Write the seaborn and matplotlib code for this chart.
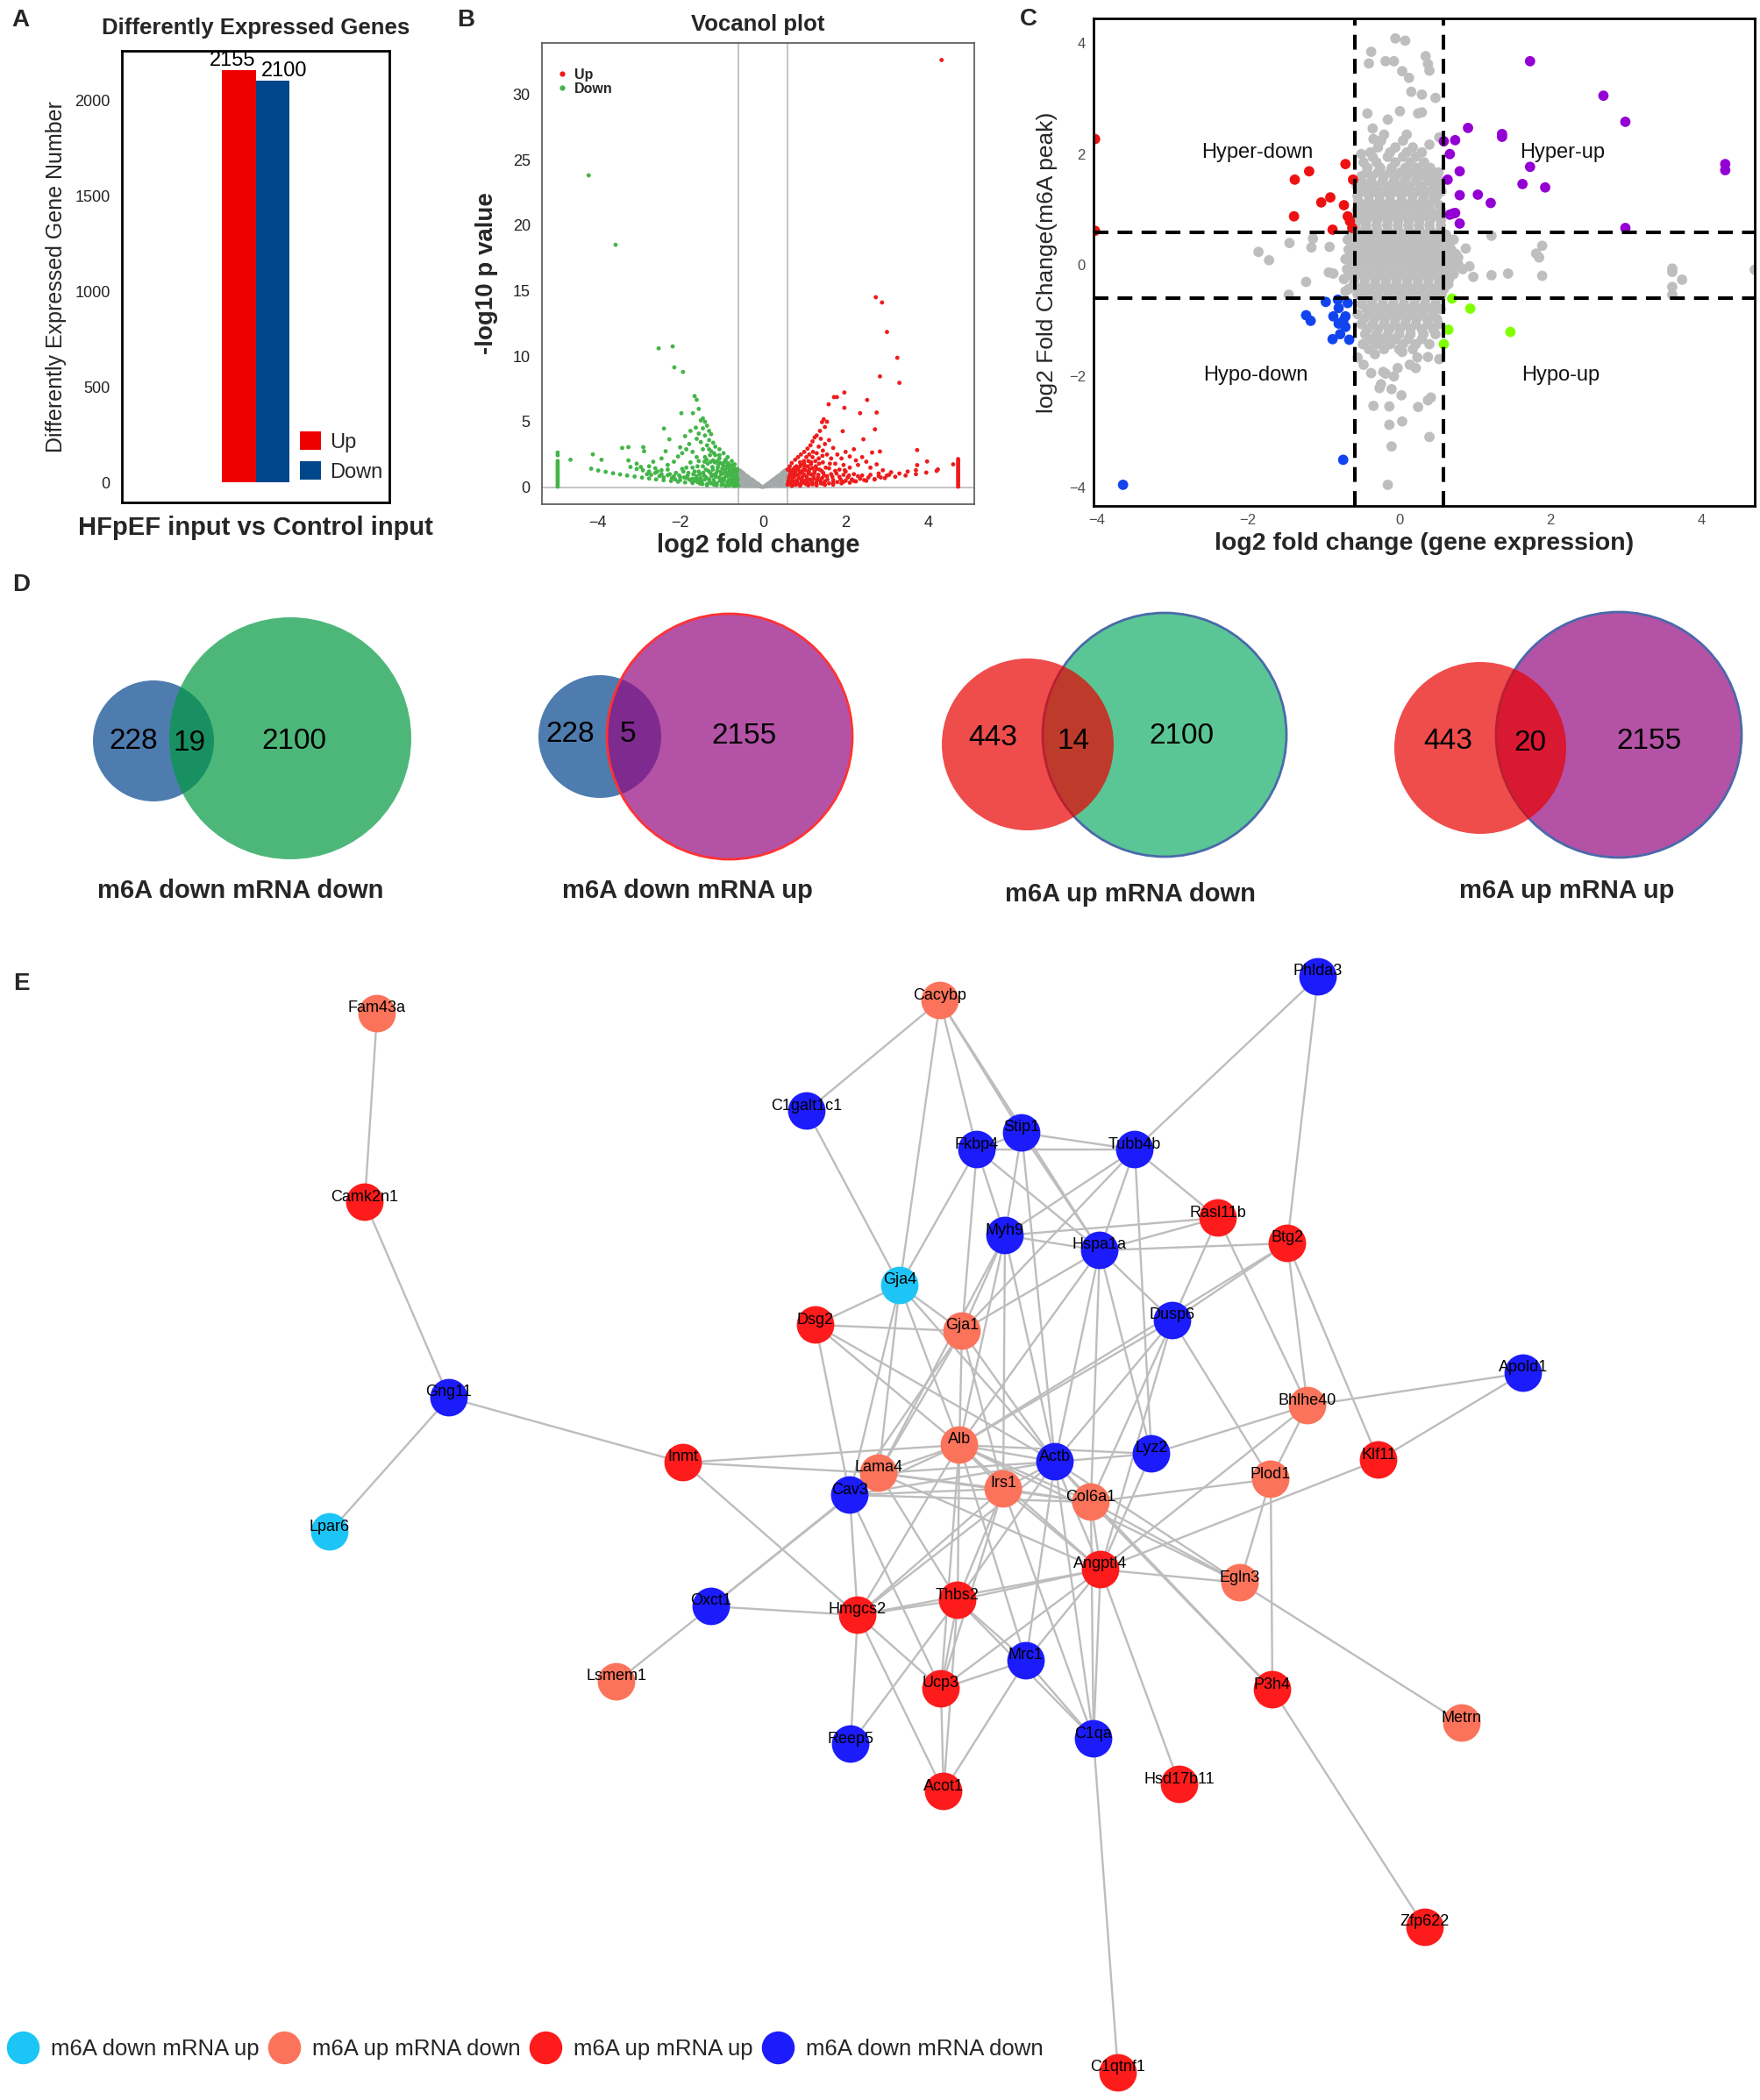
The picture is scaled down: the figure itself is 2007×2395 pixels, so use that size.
import numpy as np
import pandas as pd
import matplotlib
matplotlib.use("Agg")
import matplotlib.pyplot as plt
from matplotlib.patches import Circle
from matplotlib.lines import Line2D
from matplotlib.collections import LineCollection
import seaborn as sns

W, H = 2008, 2395

sns.set_style("white")
plt.rcParams['font.family'] = ['Liberation Sans', 'DejaVu Sans']

# ---------------- panel A data ----------------
deg_groups = ["Up", "Down"]
deg_counts = [2155, 2100]
deg_colors = ["#ED0000", "#00468B"]
comparison = "HFpEF input vs Control input"

# ---------------- panel B data (log2 FC, -log10 p) ----------------
vol_down = [(-4.21, 23.8), (-3.56, 18.5), (-2.52, 10.6), (-2.18, 10.75), (-2.14, 9.15), (-1.93, 8.8),
            (-1.65, 6.96), (-1.60, 6.68), (-1.55, 5.98), (-1.97, 5.65), (-1.69, 5.65), (-2.39, 4.48),
            (-2.26, 3.66), (-2.89, 3.06), (-2.87, 2.75), (-3.40, 3.0), (-3.25, 3.06), (-4.11, 2.51),
            (-3.90, 2.1), (-4.65, 2.1), (-3.25, 2.05), (-3.05, 1.8), (-2.95, 1.55), (-2.75, 1.6),
            (-2.6, 1.45), (-2.45, 1.3), (-2.3, 1.7), (-2.15, 1.95), (-2.05, 2.35), (-1.95, 2.6),
            (-1.85, 2.9), (-1.78, 3.3), (-2.45, 2.2), (-2.65, 1.95), (-2.35, 2.75), (-2.0, 3.05),
            (-1.88, 3.9), (-1.75, 4.3), (-1.62, 4.55), (-1.5, 5.1), (-1.45, 5.25), (-1.40, 5.0),
            (-1.35, 4.7), (-1.3, 4.3), (-1.25, 4.05), (-1.45, 4.5), (-1.55, 4.1), (-1.6, 3.7),
            (-1.4, 3.95), (-1.3, 3.6), (-1.2, 3.4), (-1.15, 3.1), (-1.05, 2.9), (-0.95, 2.6),
            (-0.85, 2.3), (-0.75, 2.0), (-0.68, 1.75), (-1.5, 3.45), (-1.7, 2.7), (-1.6, 2.3),
            (-1.45, 2.9), (-1.35, 3.2), (-1.25, 2.75), (-1.15, 2.45), (-1.05, 2.2), (-0.92, 1.95),
            (-0.8, 1.7), (-0.7, 1.45), (-0.62, 1.2),
            (-4.15, 1.42), (-3.98, 1.28), (-3.8, 1.18), (-3.62, 1.07), (-3.45, 0.98), (-3.28, 0.9),
            (-3.1, 0.82), (-2.92, 0.74), (-2.75, 0.67), (-2.58, 0.6), (-2.4, 0.54), (-2.22, 0.48),
            (-2.05, 0.42), (-1.88, 0.37), (-1.7, 0.32), (-1.52, 0.28), (-1.35, 0.24), (-1.18, 0.2),
            (-1.0, 0.17), (-0.82, 0.14), (-0.65, 0.12),
            (-3.2, 1.55), (-3.05, 1.4), (-2.9, 1.3), (-2.75, 1.2), (-2.6, 1.1), (-2.45, 1.0),
            (-2.3, 0.92), (-2.15, 0.85), (-2.0, 0.78), (-1.85, 0.72), (-1.7, 0.65), (-1.55, 0.6),
            (-4.96, 0.05), (-4.96, 0.2), (-4.96, 0.35), (-4.96, 0.5), (-4.96, 0.65), (-4.96, 0.8),
            (-4.96, 0.95), (-4.96, 1.1), (-4.96, 1.25), (-4.96, 1.4), (-4.96, 1.55), (-4.96, 1.7),
            (-4.96, 1.85), (-4.96, 2.0), (-4.96, 2.45), (-4.96, 2.65),
            (-1.48, 0.45), (-1.42, 0.9), (-1.38, 1.35), (-1.33, 1.8), (-1.3, 0.6), (-1.27, 1.1),
            (-1.22, 1.55), (-1.2, 2.05), (-1.17, 0.35), (-1.14, 0.8), (-1.1, 1.25), (-1.08, 1.7),
            (-1.04, 0.5), (-1.01, 1.0), (-0.98, 1.45), (-0.96, 0.25), (-0.93, 0.7), (-0.9, 1.15),
            (-0.88, 1.6), (-0.86, 0.4), (-0.83, 0.9), (-0.8, 1.3), (-0.78, 0.2), (-0.76, 0.6),
            (-0.73, 1.05), (-0.71, 1.5), (-0.69, 0.35), (-0.66, 0.8), (-0.64, 1.0), (-0.62, 0.5),
            (-0.61, 0.25), (-1.35, 0.15), (-1.25, 0.3), (-1.12, 0.15), (-0.9, 0.1), (-0.7, 0.1),
            (-1.45, 1.6), (-1.55, 1.2), (-1.6, 0.85), (-1.65, 0.5), (-1.7, 1.5), (-1.8, 1.1),
            (-1.9, 0.75), (-1.95, 1.4), (-2.1, 1.1), (-2.2, 0.7), (-2.3, 1.35), (-2.5, 0.85),
            (-2.7, 0.95), (-1.75, 1.9), (-1.55, 2.0), (-1.4, 2.3), (-1.28, 2.45), (-1.1, 2.0),
            (-0.98, 1.8), (-0.85, 1.85), (-1.0, 0.65), (-1.2, 0.95), (-1.4, 0.6), (-1.58, 0.4),
            (-1.78, 0.6), (-2.0, 0.55), (-1.85, 1.5), (-1.65, 1.2), (-1.5, 0.7), (-0.75, 0.85),
            (-0.67, 0.6)]
vol_down_dense = [(-1.46, 0.25), (-1.44, 1.1), (-1.41, 1.95), (-1.37, 0.75), (-1.36, 2.1), (-1.32, 1.25),
                  (-1.29, 0.4), (-1.26, 1.95), (-1.24, 0.85), (-1.21, 1.35), (-1.19, 0.55), (-1.16, 1.9),
                  (-1.13, 1.05), (-1.11, 0.3), (-1.09, 1.5), (-1.06, 0.75), (-1.03, 1.85), (-1.02, 1.2),
                  (-0.99, 0.4), (-0.97, 1.05), (-0.95, 1.65), (-0.94, 0.55), (-0.92, 1.3), (-0.89, 0.85),
                  (-0.87, 1.45), (-0.85, 0.2), (-0.84, 1.1), (-0.82, 0.6), (-0.81, 1.5), (-0.79, 0.95),
                  (-0.77, 0.4), (-0.76, 1.25), (-0.74, 0.7), (-0.72, 1.7), (-0.71, 0.25), (-0.7, 1.15),
                  (-0.68, 0.5), (-0.67, 1.35), (-0.65, 0.35), (-0.63, 0.8), (-0.62, 1.4), (-0.61, 0.65),
                  (-0.6, 0.15), (-1.52, 1.0), (-1.58, 1.6), (-1.62, 0.65), (-1.68, 1.0), (-1.72, 0.45),
                  (-1.82, 0.9), (-1.92, 1.2), (-2.02, 0.9), (-2.12, 0.6), (-2.25, 1.0), (-2.4, 0.75),
                  (-2.55, 1.2), (-2.8, 1.0), (-1.3, 2.9), (-1.18, 2.6), (-1.05, 2.45), (-0.9, 2.1)]

vol_up = [(4.32, 32.6), (2.73, 14.5), (2.88, 14.1), (3.0, 11.85), (3.25, 9.88), (2.83, 8.46),
          (3.30, 7.97), (1.97, 7.23), (1.72, 6.88), (1.79, 6.88), (2.52, 6.66), (1.59, 6.33),
          (1.97, 6.06), (2.75, 5.7), (2.35, 5.65), (1.47, 5.19), (1.43, 4.97), (2.71, 4.42),
          (1.93, 4.28), (2.43, 3.66), (3.73, 2.84), (2.64, 2.65), (2.83, 2.73), (3.97, 1.97),
          (3.73, 1.69), (4.23, 1.36), (4.6, 1.75),
          (1.55, 5.0), (1.5, 4.6), (1.38, 4.3), (1.3, 3.95), (1.25, 3.8), (1.2, 3.5), (1.15, 3.2),
          (1.08, 2.95), (1.0, 2.7), (0.92, 2.5), (0.85, 2.3), (0.78, 2.1), (0.7, 1.85), (0.65, 1.6),
          (0.6, 1.35), (1.4, 3.7), (1.5, 3.3), (1.6, 3.6), (1.7, 3.0), (1.45, 2.8), (1.35, 3.1),
          (1.3, 2.6), (1.2, 2.3), (1.1, 2.0), (1.0, 1.8), (0.9, 1.6), (0.8, 1.4), (0.7, 1.2),
          (1.8, 2.5), (1.9, 2.2), (2.0, 2.7), (2.1, 2.35), (2.2, 2.9), (2.25, 2.05), (2.4, 2.3),
          (1.65, 2.2), (1.55, 2.5), (2.3, 1.7), (2.5, 1.95), (2.6, 1.5), (2.75, 1.75), (2.9, 1.3),
          (3.1, 1.15), (2.1, 1.5), (1.95, 1.7), (1.75, 1.8), (1.85, 1.35), (2.0, 1.2), (2.2, 1.0),
          (2.4, 0.9), (2.6, 0.95), (2.8, 1.05), (3.0, 0.9), (1.6, 1.45), (1.45, 1.9), (1.35, 2.2),
          (0.6, 0.2), (0.62, 0.5), (0.64, 0.85), (0.66, 1.1), (0.69, 0.35), (0.72, 0.7), (0.75, 1.0),
          (0.77, 1.5), (0.8, 0.2), (0.83, 0.55), (0.86, 0.95), (0.88, 1.25), (0.9, 1.9), (0.93, 0.4),
          (0.96, 0.8), (0.98, 1.35), (1.01, 1.6), (1.04, 0.25), (1.07, 0.6), (1.1, 1.05), (1.13, 1.4),
          (1.16, 1.75), (1.19, 0.4), (1.22, 0.85), (1.25, 1.2), (1.28, 1.6), (1.31, 0.55), (1.34, 0.95),
          (1.37, 1.35), (1.4, 0.3), (1.43, 0.7), (1.46, 1.1), (1.5, 0.45), (1.55, 0.85), (1.6, 0.3),
          (1.65, 1.0), (1.7, 0.55), (1.75, 1.25), (1.8, 0.4), (1.85, 0.8), (1.9, 0.3), (1.95, 0.95),
          (2.0, 0.5), (2.05, 0.75), (2.1, 0.35), (2.15, 0.6), (2.25, 0.45), (2.35, 0.65), (2.5, 0.5),
          (2.7, 0.6), (0.7, 0.1), (0.9, 0.12), (1.1, 0.15), (1.3, 0.15), (1.5, 0.18), (1.7, 0.2),
          (1.2, 0.22), (1.45, 0.28), (1.7, 0.35), (1.95, 0.42), (2.2, 0.48), (2.45, 0.55), (2.7, 0.62),
          (2.95, 0.7), (3.2, 0.8), (3.45, 0.9), (3.7, 1.0), (3.95, 1.12), (4.2, 1.25),
          (2.8, 0.85), (3.05, 0.95), (3.3, 1.05), (3.5, 1.2), (3.7, 1.3),
          (4.72, 0.05), (4.72, 0.2), (4.72, 0.35), (4.72, 0.5), (4.72, 0.65), (4.72, 0.8),
          (4.72, 0.95), (4.72, 1.1), (4.72, 1.25), (4.72, 1.4), (4.72, 1.55), (4.72, 1.7),
          (4.72, 1.85), (4.72, 2.0), (4.72, 2.15)]
vol_up_dense = [(0.61, 0.35), (0.63, 0.7), (0.65, 1.3), (0.67, 0.25), (0.68, 0.95), (0.71, 0.5),
                (0.73, 1.35), (0.74, 0.2), (0.76, 0.8), (0.78, 1.2), (0.79, 0.45), (0.81, 1.6),
                (0.82, 0.95), (0.84, 0.3), (0.85, 1.4), (0.87, 0.7), (0.89, 1.05), (0.91, 0.2),
                (0.92, 1.7), (0.94, 0.6), (0.95, 1.15), (0.97, 0.35), (0.99, 2.0), (1.0, 0.95),
                (1.02, 0.5), (1.03, 1.3), (1.05, 2.3), (1.06, 0.8), (1.08, 1.6), (1.09, 0.35),
                (1.11, 1.2), (1.12, 2.5), (1.14, 0.6), (1.15, 1.0), (1.17, 1.9), (1.18, 0.3),
                (1.2, 1.45), (1.21, 2.7), (1.23, 0.65), (1.24, 1.05), (1.27, 2.0), (1.29, 0.35),
                (1.3, 1.4), (1.33, 0.75), (1.36, 1.8), (1.39, 0.5), (1.42, 1.25), (1.44, 2.4),
                (1.48, 0.9), (1.52, 1.5), (1.56, 0.6), (1.62, 1.8), (1.68, 0.8), (1.78, 1.05),
                (1.88, 0.6), (1.98, 1.3), (2.08, 0.9), (2.3, 0.85), (2.55, 0.75), (2.85, 0.75)]

vol_ns = [(-0.58, 0.1), (-0.58, 0.5), (-0.58, 0.9), (-0.58, 1.3), (-0.54, 0.2), (-0.54, 0.65),
          (-0.54, 1.05), (-0.54, 1.25), (-0.50, 0.12), (-0.50, 0.45), (-0.50, 0.85), (-0.50, 1.15),
          (-0.46, 0.3), (-0.46, 0.7), (-0.46, 1.05), (-0.42, 0.1), (-0.42, 0.5), (-0.42, 0.9),
          (-0.38, 0.25), (-0.38, 0.6), (-0.38, 0.85), (-0.34, 0.1), (-0.34, 0.45), (-0.34, 0.75),
          (-0.30, 0.3), (-0.30, 0.62), (-0.26, 0.12), (-0.26, 0.45), (-0.26, 0.58), (-0.22, 0.28),
          (-0.22, 0.48), (-0.18, 0.1), (-0.18, 0.38), (-0.14, 0.2), (-0.14, 0.3), (-0.10, 0.08),
          (-0.10, 0.22), (-0.06, 0.1), (-0.02, 0.03), (0.02, 0.04), (0.06, 0.12), (0.10, 0.07),
          (0.10, 0.22), (0.14, 0.18), (0.14, 0.3), (0.18, 0.1), (0.18, 0.4), (0.22, 0.25),
          (0.22, 0.5), (0.26, 0.12), (0.26, 0.42), (0.26, 0.6), (0.30, 0.3), (0.30, 0.68),
          (0.34, 0.15), (0.34, 0.5), (0.34, 0.78), (0.38, 0.28), (0.38, 0.62), (0.38, 0.88),
          (0.42, 0.1), (0.42, 0.5), (0.42, 0.95), (0.46, 0.3), (0.46, 0.72), (0.46, 1.08),
          (0.50, 0.15), (0.50, 0.55), (0.50, 0.9), (0.50, 1.18), (0.54, 0.22), (0.54, 0.68),
          (0.54, 1.05), (0.54, 1.28), (0.58, 0.1), (0.58, 0.48), (0.58, 0.92), (0.58, 1.35)]

# ---------------- panel C data (log2 FC expression, log2 FC m6A peak) ----------------
c_hyper_down = [(-4.02, 2.27), (-1.38, 1.54), (-1.19, 1.69), (-0.71, 1.82), (-0.61, 1.54),
                (-1.03, 1.13), (-0.91, 1.22), (-0.73, 1.08), (-1.39, 0.88), (-0.68, 0.88),
                (-0.65, 0.79), (-0.62, 0.67), (-0.88, 0.64), (-4.02, 0.62)]
c_hyper_up = [(1.73, 3.67), (2.70, 3.05), (2.99, 2.58), (4.31, 1.82), (4.31, 1.71), (0.91, 2.47),
              (1.36, 2.36), (1.36, 2.31), (0.59, 2.23), (0.74, 2.25), (0.67, 2.00), (1.73, 1.77),
              (0.80, 1.69), (0.64, 1.54), (1.63, 1.46), (1.93, 1.40), (0.80, 1.26), (1.04, 1.27),
              (1.21, 1.12), (0.71, 0.93), (0.74, 0.94), (0.67, 0.91), (0.80, 0.75), (2.99, 0.67)]
c_hypo_down = [(-0.97, -0.66), (-0.81, -0.62), (-0.80, -0.77), (-0.68, -0.68), (-0.87, -0.92),
               (-0.71, -0.92), (-1.23, -0.90), (-1.17, -1.00), (-0.80, -1.05), (-0.74, -1.00),
               (-0.71, -1.11), (-0.78, -1.24), (-0.88, -1.33), (-0.66, -1.34), (-0.74, -3.50),
               (-3.65, -3.95)]
c_hypo_up = [(0.70, -0.60), (0.94, -0.78), (0.65, -1.16), (1.47, -1.20), (0.59, -1.42)]
c_ns_outer = [(-0.05, 4.08), (0.08, 4.04), (-0.37, 3.84), (-0.40, 3.63), (-0.18, 3.67), (-0.07, 3.67),
              (0.35, 3.76), (0.38, 3.62), (0.40, 3.50), (0.04, 3.49), (0.13, 3.37), (0.16, 3.12),
              (0.30, 3.07), (0.48, 3.01), (-0.42, 2.73), (0.01, 2.77), (0.25, 2.73), (0.30, 2.75),
              (-0.15, 2.62), (-0.35, 2.46), (-0.34, 2.27), (0.53, 2.30), (0.40, 2.17), (-0.50, 2.00),
              (-1.14, 0.48), (-1.45, 0.40), (-1.16, 0.32), (-1.86, 0.24), (-1.72, 0.09), (-0.92, 0.33),
              (-1.23, -0.30), (-0.93, -0.13), (-0.87, -0.15), (-1.46, -0.53), (-0.71, -0.47),
              (0.88, 0.30), (0.78, 0.14), (0.93, -0.02), (0.98, -0.21), (1.22, -0.18), (1.44, -0.15),
              (1.22, 0.53), (1.89, 0.35), (1.81, 0.21), (1.85, 0.14), (1.89, -0.19), (3.61, -0.06),
              (3.61, -0.12), (3.74, -0.26), (3.61, -0.39), (3.61, -0.53), (4.70, -0.08),
              (-0.55, -1.66), (-0.47, -1.79), (-0.32, -1.60), (0.04, -1.56), (0.24, -1.66),
              (0.38, -1.65), (0.53, -1.69), (-0.37, -1.94), (-0.21, -1.92), (-0.02, -1.85), (0.14, -1.79),
              (0.22, -1.85), (-0.18, -1.95), (-0.07, -2.00), (-0.24, -2.14), (-0.26, -2.21), (-0.10, -2.23),
              (0.03, -2.34), (0.42, -2.38), (0.38, -2.43), (-0.34, -2.53), (-0.13, -2.54), (0.25, -2.55),
              (-0.13, -2.87), (0.04, -2.81), (0.40, -3.09), (-0.10, -3.26), (-0.15, -3.95)]
c_ns_core = [(2.35, [-0.2, 0.1]),
             (2.12, [-0.28, -0.05, 0.18]),
             (1.95, [-0.35, -0.15, 0.05, 0.22]),
             (1.75, [-0.42, -0.25, -0.1, 0.08, 0.24, 0.41]),
             (1.6, [-0.5, -0.36, -0.2, -0.05, 0.1, 0.27, 0.45]),
             (1.42, [-0.56, -0.44, -0.3, -0.15, 0.0, 0.14, 0.3, 0.47]),
             (1.25, [-0.55, -0.4, -0.26, -0.12, 0.03, 0.18, 0.33, 0.5]),
             (1.08, [-0.47, -0.33, -0.19, -0.05, 0.1, 0.24, 0.38, 0.53]),
             (0.9, [-0.5, -0.36, -0.22, -0.08, 0.06, 0.2, 0.34, 0.48]),
             (0.72, [-0.58, -0.44, -0.3, -0.16, -0.02, 0.12, 0.26, 0.4, 0.55]),
             (0.55, [-0.63, -0.5, -0.36, -0.22, -0.08, 0.06, 0.2, 0.34, 0.48, 0.62]),
             (0.37, [-0.6, -0.46, -0.32, -0.18, -0.04, 0.1, 0.24, 0.38, 0.52, 0.66]),
             (0.2, [-0.64, -0.5, -0.36, -0.22, -0.08, 0.06, 0.2, 0.34, 0.48, 0.62, 0.75]),
             (0.02, [-0.62, -0.48, -0.34, -0.2, -0.06, 0.08, 0.22, 0.36, 0.5, 0.64, 0.78]),
             (-0.16, [-0.66, -0.52, -0.38, -0.24, -0.1, 0.04, 0.18, 0.32, 0.46, 0.6, 0.72]),
             (-0.34, [-0.6, -0.46, -0.32, -0.18, -0.04, 0.1, 0.24, 0.38, 0.52, 0.65]),
             (-0.52, [-0.55, -0.42, -0.28, -0.14, 0.0, 0.14, 0.28, 0.42, 0.56]),
             (-0.7, [-0.5, -0.36, -0.22, -0.08, 0.06, 0.2, 0.34, 0.48]),
             (-0.88, [-0.55, -0.4, -0.26, -0.12, 0.02, 0.16, 0.3, 0.45]),
             (-1.06, [-0.5, -0.35, -0.2, -0.06, 0.08, 0.22, 0.38, 0.52]),
             (-1.24, [-0.45, -0.3, -0.15, 0.0, 0.15, 0.32, 0.48]),
             (-1.42, [-0.48, -0.3, -0.12, 0.05, 0.22, 0.4])]
c_ns_core_mid = [(2.24, [-0.24, 0.05]),
                 (2.03, [-0.38, -0.12, 0.1, 0.3]),
                 (1.85, [-0.47, -0.3, -0.05, 0.15, 0.33]),
                 (1.67, [-0.43, -0.28, -0.12, 0.02, 0.18, 0.35, 0.52]),
                 (1.51, [-0.5, -0.37, -0.22, -0.07, 0.07, 0.22, 0.38, 0.54]),
                 (1.33, [-0.48, -0.34, -0.19, -0.05, 0.1, 0.25, 0.41, 0.56]),
                 (1.16, [-0.54, -0.4, -0.26, -0.12, 0.03, 0.17, 0.31, 0.45]),
                 (0.99, [-0.56, -0.43, -0.29, -0.15, -0.01, 0.13, 0.27, 0.41, 0.55]),
                 (0.81, [-0.55, -0.43, -0.29, -0.15, -0.01, 0.13, 0.27, 0.41, 0.55]),
                 (0.63, [-0.56, -0.43, -0.29, -0.15, -0.01, 0.13, 0.27, 0.41, 0.55]),
                 (0.46, [-0.68, -0.53, -0.39, -0.25, -0.11, 0.03, 0.17, 0.31, 0.45, 0.59, 0.72]),
                 (0.28, [-0.67, -0.53, -0.39, -0.25, -0.11, 0.03, 0.17, 0.31, 0.45, 0.55, 0.69]),
                 (0.11, [-0.71, -0.57, -0.43, -0.29, -0.15, -0.01, 0.13, 0.27, 0.41, 0.55, 0.69]),
                 (-0.07, [-0.69, -0.55, -0.41, -0.27, -0.13, 0.01, 0.15, 0.29, 0.43, 0.57, 0.71, 0.84]),
                 (-0.25, [-0.73, -0.59, -0.45, -0.31, -0.17, -0.03, 0.11, 0.25, 0.39, 0.53, 0.66]),
                 (-0.43, [-0.67, -0.53, -0.39, -0.25, -0.11, 0.03, 0.17, 0.31, 0.45, 0.59]),
                 (-0.61, [-0.48, -0.35, -0.21, -0.07, 0.07, 0.21, 0.35, 0.49]),
                 (-0.79, [-0.43, -0.29, -0.15, -0.01, 0.13, 0.27, 0.41, 0.55]),
                 (-0.97, [-0.47, -0.33, -0.19, -0.05, 0.09, 0.23, 0.37, 0.5]),
                 (-1.15, [-0.42, -0.28, -0.13, 0.01, 0.15, 0.3, 0.45]),
                 (-1.33, [-0.38, -0.22, -0.05, 0.12, 0.3]),
                 (-1.51, [-0.4, -0.2, 0.0, 0.18])]
c_quadrants = ["Hyper-down", "Hyper-up", "Hypo-down", "Hypo-up"]

# ---------------- panel D data ----------------
venn_titles = ["m6A down mRNA down", "m6A down mRNA up", "m6A up mRNA down", "m6A up mRNA up"]
venn_left = [228, 228, 443, 443]
venn_both = [19, 5, 14, 20]
venn_right = [2100, 2155, 2100, 2155]

# ---------------- panel E data ----------------
grp_labels = ["m6A down mRNA up", "m6A up mRNA down", "m6A up mRNA up", "m6A down mRNA down"]
grp_colors = ["#1DC5F6", "#FB735A", "#FE1B1B", "#1B1BFB"]
node_names = ["Fam43a", "Camk2n1", "Gng11", "Lpar6", "Inmt", "C1galt1c1", "Cacybp", "Phlda3",
              "Fkbp4", "Stip1", "Tubb4b", "Rasl11b", "Btg2", "Myh9", "Hspa1a", "Gja4", "Dsg2",
              "Gja1", "Dusp6", "Apold1", "Bhlhe40", "Alb", "Actb", "Lyz2", "Klf11", "Lama4", "Cav3",
              "Irs1", "Col6a1", "Plod1", "Angptl4", "Egln3", "Oxct1", "Hmgcs2", "Thbs2", "Lsmem1",
              "Mrc1", "Ucp3", "P3h4", "Metrn", "Reep5", "C1qa", "Acot1", "Hsd17b11", "Zfp622", "C1qtnf1"]
node_x = [430, 416, 512, 376, 779, 920, 1072, 1503, 1114, 1165, 1294, 1389, 1468, 1146, 1254, 1026,
          930, 1097, 1337, 1737, 1491, 1094, 1203, 1313, 1572, 1002, 969, 1144, 1244, 1449, 1255,
          1414, 811, 978, 1092, 703, 1170, 1073, 1451, 1667, 970, 1247, 1076, 1345, 1625, 1275]
node_y = [1156, 1371, 1594, 1747, 1668, 1267, 1141, 1114, 1311, 1292, 1311, 1389, 1418, 1409, 1426,
          1466, 1511, 1518, 1506, 1566, 1603, 1648, 1667, 1658, 1665, 1680, 1705, 1698, 1713, 1687,
          1790, 1805, 1832, 1842, 1825, 1918, 1894, 1926, 1927, 1965, 1989, 1983, 2043, 2035, 2198, 2364]
node_group = [1, 2, 3, 0, 2, 3, 1, 3, 3, 3, 3, 2, 2, 3, 3, 0, 2, 1, 3, 3, 1, 1, 3, 3, 2, 1, 3, 1, 1, 1,
              2, 1, 3, 2, 2, 1, 3, 2, 2, 1, 3, 3, 2, 2, 2, 2]
edges = [("Fam43a", "Camk2n1"), ("Camk2n1", "Gng11"), ("Gng11", "Lpar6"), ("Gng11", "Inmt"),
         ("Inmt", "Alb"), ("Inmt", "Lama4"), ("Inmt", "Hmgcs2"),
         ("C1galt1c1", "Cacybp"), ("C1galt1c1", "Gja4"),
         ("Cacybp", "Gja4"), ("Cacybp", "Fkbp4"), ("Cacybp", "Stip1"), ("Cacybp", "Hspa1a"),
         ("Phlda3", "Tubb4b"), ("Phlda3", "Btg2"),
         ("Fkbp4", "Stip1"), ("Fkbp4", "Tubb4b"), ("Fkbp4", "Myh9"), ("Fkbp4", "Hspa1a"),
         ("Fkbp4", "Gja1"), ("Fkbp4", "Gja4"),
         ("Stip1", "Tubb4b"), ("Stip1", "Myh9"), ("Stip1", "Hspa1a"), ("Stip1", "Actb"),
         ("Tubb4b", "Myh9"), ("Tubb4b", "Hspa1a"), ("Tubb4b", "Lyz2"), ("Tubb4b", "Rasl11b"),
         ("Tubb4b", "Gja1"),
         ("Myh9", "Rasl11b"), ("Myh9", "Hspa1a"), ("Myh9", "Gja1"), ("Myh9", "Alb"), ("Myh9", "Lama4"),
         ("Myh9", "Actb"), ("Myh9", "Irs1"),
         ("Hspa1a", "Rasl11b"), ("Hspa1a", "Btg2"), ("Hspa1a", "Gja1"), ("Hspa1a", "Alb"),
         ("Hspa1a", "Actb"), ("Hspa1a", "Dusp6"), ("Hspa1a", "Lyz2"), ("Hspa1a", "Col6a1"),
         ("Rasl11b", "Dusp6"), ("Rasl11b", "Bhlhe40"),
         ("Btg2", "Dusp6"), ("Btg2", "Bhlhe40"), ("Btg2", "Klf11"), ("Btg2", "Alb"),
         ("Gja4", "Dsg2"), ("Gja4", "Gja1"), ("Gja4", "Lama4"), ("Gja4", "Cav3"), ("Gja4", "Alb"),
         ("Gja4", "Actb"),
         ("Dsg2", "Gja1"), ("Dsg2", "Alb"), ("Dsg2", "Actb"), ("Dsg2", "Cav3"),
         ("Gja1", "Alb"), ("Gja1", "Lama4"), ("Gja1", "Cav3"), ("Gja1", "Actb"), ("Gja1", "Irs1"),
         ("Dusp6", "Alb"), ("Dusp6", "Actb"), ("Dusp6", "Col6a1"), ("Dusp6", "Plod1"), ("Dusp6", "Angptl4"),
         ("Apold1", "Bhlhe40"), ("Apold1", "Klf11"),
         ("Bhlhe40", "Lyz2"), ("Bhlhe40", "Plod1"), ("Bhlhe40", "Angptl4"),
         ("Alb", "Actb"), ("Alb", "Lama4"), ("Alb", "Cav3"), ("Alb", "Irs1"), ("Alb", "Col6a1"),
         ("Alb", "Lyz2"), ("Alb", "Angptl4"), ("Alb", "Thbs2"), ("Alb", "Ucp3"), ("Alb", "Hmgcs2"),
         ("Alb", "Mrc1"), ("Alb", "Egln3"),
         ("Actb", "Lyz2"), ("Actb", "Lama4"), ("Actb", "Cav3"), ("Actb", "Irs1"), ("Actb", "Col6a1"),
         ("Actb", "Angptl4"), ("Actb", "Thbs2"), ("Actb", "Hmgcs2"), ("Actb", "Mrc1"), ("Actb", "C1qa"),
         ("Actb", "Egln3"), ("Actb", "P3h4"),
         ("Lama4", "Cav3"), ("Lama4", "Irs1"), ("Lama4", "Col6a1"), ("Lama4", "Thbs2"),
         ("Lama4", "Angptl4"), ("Lama4", "Oxct1"),
         ("Cav3", "Irs1"), ("Cav3", "Col6a1"), ("Cav3", "Oxct1"), ("Cav3", "Hmgcs2"), ("Cav3", "Ucp3"),
         ("Irs1", "Col6a1"), ("Irs1", "Thbs2"), ("Irs1", "Ucp3"), ("Irs1", "Angptl4"), ("Irs1", "Hmgcs2"),
         ("Irs1", "C1qa"),
         ("Col6a1", "Plod1"), ("Col6a1", "Egln3"), ("Col6a1", "Angptl4"), ("Col6a1", "P3h4"),
         ("Col6a1", "C1qa"),
         ("Lyz2", "Angptl4"), ("Klf11", "Angptl4"), ("Plod1", "Egln3"), ("Plod1", "P3h4"),
         ("Angptl4", "Egln3"), ("Angptl4", "Thbs2"), ("Angptl4", "Hsd17b11"), ("Angptl4", "C1qa"),
         ("Angptl4", "Mrc1"), ("Angptl4", "Ucp3"), ("Angptl4", "Hmgcs2"),
         ("Egln3", "Metrn"),
         ("Thbs2", "Hmgcs2"), ("Thbs2", "Ucp3"), ("Thbs2", "Acot1"), ("Thbs2", "Reep5"),
         ("Thbs2", "Mrc1"), ("Thbs2", "C1qa"),
         ("Hmgcs2", "Oxct1"), ("Hmgcs2", "Ucp3"), ("Hmgcs2", "Acot1"), ("Hmgcs2", "Reep5"),
         ("Ucp3", "Acot1"), ("Ucp3", "Mrc1"), ("Mrc1", "C1qa"), ("Mrc1", "Acot1"),
         ("C1qa", "C1qtnf1"), ("Oxct1", "Lsmem1"), ("P3h4", "Zfp622")]


def px_axes(fig, left, top, right, bottom):
    return fig.add_axes([left / W, 1 - bottom / H, (right - left) / W, (bottom - top) / H])


fig = plt.figure(figsize=(W / 100, H / 100), dpi=100)

# overlay axes in pixel units for D and E
axO = fig.add_axes([0, 0, 1, 1])
axO.set_xlim(0, W)
axO.set_ylim(H, 0)
axO.axis("off")

for lab, (lx, ly) in zip("ABCDE", [(23, 23), (531, 23), (1173, 22), (24, 667), (24, 1122)]):
    fig.text(lx / W, 1 - ly / H, lab, fontsize=20, fontweight="bold", ha="center", va="center")

# ================= A =================
axA = px_axes(fig, 139, 58, 444, 573)
dfA = pd.DataFrame({"comparison": [comparison] * 2, "group": deg_groups, "count": deg_counts})
sns.barplot(data=dfA, x="comparison", y="count", hue="group", hue_order=deg_groups,
            palette=deg_colors, width=0.2525, saturation=1, ax=axA, edgecolor="none")
axA.set_xlim(-0.5, 0.5)
axA.set_ylim(-105, 2257)
label_shift = [-0.024, 0.045]
for cont, val, sh in zip(axA.containers, deg_counts, label_shift):
    bar = cont[0]
    axA.text(bar.get_x() + bar.get_width() / 2 + sh, val, str(val), ha="center", va="bottom",
             fontsize=17, color="black")
axA.set_yticks([0, 500, 1000, 1500, 2000])
axA.tick_params(axis="y", labelsize=13, length=6, width=1.6, colors="black", labelcolor="#222222")
axA.tick_params(axis="x", length=7, width=2.2, pad=4)
axA.set_xticks([0])
axA.set_xticklabels([comparison], fontsize=21, fontweight="bold")
axA.set_xlabel("")
axA.set_ylabel("Differently Expressed Gene Number", fontsize=18, labelpad=7)
axA.set_title("Differently Expressed Genes", fontsize=18.5, fontweight="bold", pad=14)
for sp in axA.spines.values():
    sp.set_visible(True)
    sp.set_color("black")
    sp.set_linewidth(2)
axA.legend(loc="lower left", bbox_to_anchor=(0.664, 0.045), frameon=False, fontsize=17,
           handlelength=1.05, handleheight=1.0, handletextpad=0.4, labelspacing=0.45,
           borderpad=0, borderaxespad=0, title=None)

# ================= B =================
axB = px_axes(fig, 618, 49, 1111, 575)
dfB = pd.concat([
    pd.DataFrame(vol_ns, columns=["lfc", "nlp"]).assign(group="NS"),
    pd.DataFrame(vol_down + vol_down_dense, columns=["lfc", "nlp"]).assign(group="Down"),
    pd.DataFrame(vol_up + vol_up_dense, columns=["lfc", "nlp"]).assign(group="Up"),
], ignore_index=True)
vol_pal = {"Up": "#EE1C1C", "Down": "#43B548", "NS": "#A3A8A8"}
axB.axvline(-0.585, color="#C4C4C4", lw=1.4, zorder=0)
axB.axvline(0.585, color="#C4C4C4", lw=1.4, zorder=0)
axB.axhline(0, color="#C4C4C4", lw=1.4, zorder=0)
sns.scatterplot(data=dfB, x="lfc", y="nlp", hue="group", palette=vol_pal, s=12, linewidth=0,
                ax=axB, legend=False, zorder=2)
axB.set_xlim(-5.34, 5.11)
axB.set_ylim(-1.29, 33.9)
axB.set_xticks([-4, -2, 0, 2, 4])
axB.set_yticks([0, 5, 10, 15, 20, 25, 30])
axB.tick_params(labelsize=13, length=6, width=1.2, colors="#444444", labelcolor="#222222")
axB.set_xlabel("log2 fold change", fontsize=21, fontweight="bold", labelpad=2)
axB.set_ylabel("-log10 p value", fontsize=20, fontweight="bold", labelpad=12)
axB.set_title("Vocanol plot", fontsize=18.5, fontweight="bold", pad=10)
for sp in axB.spines.values():
    sp.set_visible(True)
    sp.set_color("#555555")
    sp.set_linewidth(1.2)
hB = [Line2D([], [], marker="o", ls="", markersize=4.5, markerfacecolor=vol_pal[g], markeredgewidth=0)
      for g in ["Up", "Down"]]
axB.legend(hB, ["Up", "Down"], loc="upper left", bbox_to_anchor=(0.034, 0.945), frameon=False,
           prop={"size": 11.5, "weight": "bold"}, handlelength=0.8, handletextpad=0.45,
           labelspacing=0.05, borderpad=0, borderaxespad=0)

# ================= C =================
axC = px_axes(fig, 1247, 21, 2001, 577)
core_pts = [(x, y) for y, xs in c_ns_core + c_ns_core_mid for x in xs]
dfC = pd.concat([
    pd.DataFrame(c_ns_outer + core_pts, columns=["gx", "mx"]).assign(q="NS"),
    pd.DataFrame(c_hyper_down, columns=["gx", "mx"]).assign(q="Hyper-down"),
    pd.DataFrame(c_hyper_up, columns=["gx", "mx"]).assign(q="Hyper-up"),
    pd.DataFrame(c_hypo_down, columns=["gx", "mx"]).assign(q="Hypo-down"),
    pd.DataFrame(c_hypo_up, columns=["gx", "mx"]).assign(q="Hypo-up"),
], ignore_index=True)
quad_pal = {"NS": "#BEBEBE", "Hyper-down": "#EE1111", "Hyper-up": "#9400D3",
            "Hypo-down": "#1144EE", "Hypo-up": "#7FFF00"}
sns.scatterplot(data=dfC, x="gx", y="mx", hue="q", palette=quad_pal, s=72, linewidth=0,
                ax=axC, legend=False, zorder=2)
for v in (-0.585, 0.585):
    axC.axvline(v, color="black", lw=2.9, ls=(0, (4.2, 2.6)), zorder=3)
    axC.axhline(v, color="black", lw=2.9, ls=(0, (4.2, 2.6)), zorder=3)
quad_pos = [(-1.88, 2.02), (2.16, 2.02), (-1.90, -1.98), (2.14, -1.98)]
for name, (qx, qy) in zip(c_quadrants, quad_pos):
    axC.text(qx, qy, name, fontsize=17, ha="center", va="center", color="#111111")
axC.set_xlim(-4.04, 4.70)
axC.set_ylim(-4.33, 4.44)
axC.set_xticks([-4, -2, 0, 2, 4])
axC.set_yticks([-4, -2, 0, 2, 4])
axC.tick_params(labelsize=12, length=3, width=1, colors="#4D4D4D", labelcolor="#4D4D4D")
axC.set_xlabel("log2 fold change (gene expression)", fontsize=20.5, fontweight="bold", labelpad=4)
axC.set_ylabel("log2 Fold Change(m6A peak)", fontsize=19, labelpad=9)
for sp in axC.spines.values():
    sp.set_visible(True)
    sp.set_color("black")
    sp.set_linewidth(2)

# ================= D =================
venn_small = [((175, 845), 69, (4, 69, 142)), ((684, 840), 70, (4, 69, 142)),
              ((1172, 849), 98, (233, 0, 0)), ((1688, 853), 98, (233, 0, 0))]
venn_big = [((331, 842), 138, (2, 153, 66), None), ((832, 840), 140, (148, 8, 128), "#FF3333"),
            ((1328, 838), 139, (22, 175, 105), "#4A69AA"), ((1846, 838), 140, (148, 8, 128), "#4A69AA")]
num_pos = [[(152, 845), (216, 848), (335, 845)], [(650, 838), (716, 838), (849, 840)],
           [(1132, 842), (1224, 845), (1347, 840)], [(1651, 845), (1745, 848), (1881, 845)]]
title_pos = [(274, 1016), (784, 1016), (1289, 1020), (1787, 1016)]
for i in range(4):
    (sc, sr, scol) = venn_small[i]
    (bc, br, bcol, bedge) = venn_big[i]
    s_face = tuple(c / 255 for c in scol) + (0.7,)
    b_face = tuple(c / 255 for c in bcol) + (0.7,)
    small = Circle(sc, sr, facecolor=s_face, edgecolor="none")
    big = Circle(bc, br, facecolor=b_face, edgecolor=bedge if bedge else "none", lw=2)
    if i < 2:
        axO.add_patch(small)
        axO.add_patch(big)
    else:
        axO.add_patch(big)
        axO.add_patch(small)
    for val, (tx, ty) in zip([venn_left[i], venn_both[i], venn_right[i]], num_pos[i]):
        axO.text(tx, ty, str(val), fontsize=24, ha="center", va="center", color="black", zorder=5)
    axO.text(title_pos[i][0], title_pos[i][1], venn_titles[i], fontsize=21, fontweight="bold",
             ha="center", va="center")

# ================= E =================
pos = {n: (x, y) for n, x, y in zip(node_names, node_x, node_y)}
segs = [[pos[a], pos[b]] for a, b in edges]
axO.add_collection(LineCollection(segs, colors="#BDBDBD", linewidths=1.7, zorder=1))
dfE = pd.DataFrame({"name": node_names, "x": node_x, "y": node_y,
                    "group": [grp_labels[g] for g in node_group]})
sns.scatterplot(data=dfE, x="x", y="y", hue="group", hue_order=grp_labels,
                palette=dict(zip(grp_labels, grp_colors)), s=950, linewidth=0, ax=axO,
                legend=False, zorder=3)
for n, x, y in zip(node_names, node_x, node_y):
    axO.text(x, y - 6, n, fontsize=13, ha="center", va="center", color="black", zorder=4)
axO.set_xlim(0, W)
axO.set_ylim(H, 0)
axO.axis("off")
hE = [Line2D([], [], marker="o", ls="", markersize=27, markerfacecolor=c, markeredgewidth=0)
      for c in grp_colors]
axO.legend(hE, grp_labels, loc="center left", bbox_to_anchor=(11.6 / W, 1 - 2337 / H), ncol=4,
           frameon=False, fontsize=18.5, handlelength=1.1, handletextpad=0.7, columnspacing=0.55,
           borderpad=0, borderaxespad=0)

fig.savefig("out.png", dpi=100)
